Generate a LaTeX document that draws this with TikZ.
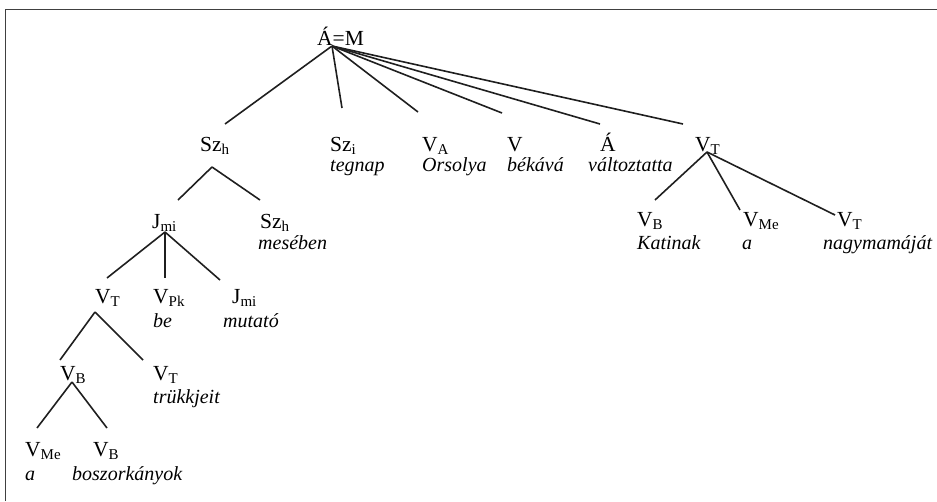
\documentclass[tikz,border=0pt]{standalone}
\usepackage{fontspec}
\setmainfont{Liberation Serif}
% lowered, smaller category index (kept out of the node's height and depth)
\newcommand\lsub[1]{\smash{\raisebox{-3pt}{\fontsize{15}{15}\selectfont #1}}}
\begin{document}
\begin{tikzpicture}[x=1pt,y=-1pt,
  lab/.style={anchor=base west, inner sep=0pt, font=\fontsize{21.5}{24}\selectfont},
  word/.style={anchor=base west, inner sep=0pt, font=\fontsize{20}{22}\selectfont\itshape},
  edge/.style={line width=1.6pt, draw=black!88},
  frame/.style={line width=1.8pt, draw=black!75}]
\useasboundingbox (0,0) rectangle (937,501);
\draw[frame] (5.5,501) -- (5.5,9.5) -- (937,9.5);

% ---- labels ----
\node[lab] (root) at (317,45) {Á=M};
% level 1
\node[lab] (szh)  at (200,151) {Sz\lsub{h}};
\node[lab] (szi)  at (330,151) {Sz\lsub{i}};
\node[word] (wtegnap) at (330,171) {tegnap};
\node[lab] (va)   at (422,151) {V\lsub{A}};
\node[word] (worsolya) at (422,171) {Orsolya};
\node[lab] (v)    at (507,151) {V};
\node[word] (wbekava) at (507,171) {békává};
\node[lab] (aa)   at (600,151) {Á};
\node[word] (wvaltoz) at (588,171) {változtatta};
\node[lab] (vt)   at (695,151) {V\lsub{T}};
% under Sz_h
\node[lab] (jmi)  at (152,228) {J\lsub{mi}};
\node[lab] (szh2) at (260,228) {Sz\lsub{h}};
\node[word] (wmeseben) at (258,249) {mesében};
% under J_mi
\node[lab] (vt2)  at (95,303) {V\lsub{T}};
\node[lab] (vpk)  at (153,303) {V\lsub{Pk}};
\node[word] (wbe) at (153,327) {be};
\node[lab] (jmi2) at (232,303) {J\lsub{mi}};
\node[word] (wmutato) at (223,327) {mutató};
% under V_T
\node[lab] (vb)   at (60,380) {V\lsub{B}};
\node[lab] (vt3)  at (153,380) {V\lsub{T}};
\node[word] (wtrukk) at (153,403) {trükkjeit};
% under V_B
\node[lab] (vme)  at (25,456) {V\lsub{Me}};
\node[word] (wa) at (25,480) {a};
\node[lab] (vb2)  at (93,456) {V\lsub{B}};
\node[word] (wboszork) at (72,480) {boszorkányok};
% under right V_T
\node[lab] (vb3)  at (637,226) {V\lsub{B}};
\node[word] (wkati) at (637,249) {Katinak};
\node[lab] (vme2) at (743,226) {V\lsub{Me}};
\node[word] (wa2) at (742,249) {a};
\node[lab] (vt4)  at (837,226) {V\lsub{T}};
\node[word] (wnagy) at (823,249) {nagymamáját};

% ---- branch points and line ends ----
\coordinate (root-b) at (332,46);
\coordinate (szh-t) at (225,124);
\coordinate (szi-t) at (342,108);
\coordinate (va-t)  at (418,112);
\coordinate (v-t)   at (502,113);
\coordinate (aa-t)  at (600,124);
\coordinate (vt-t)  at (683,124);

\coordinate (szh-b) at (212,167);
\coordinate (jmi-t) at (178,200);
\coordinate (szh2-t) at (260,200);

\coordinate (jmi-b) at (165,232);
\coordinate (vt2-t) at (107,278);
\coordinate (vpk-t) at (165,278);
\coordinate (jmi2-t) at (220,280);

\coordinate (vt2-b) at (95,312);
\coordinate (vb-t)  at (60,360);
\coordinate (vt3-t) at (143,360);

\coordinate (vb-b)  at (72,382);
\coordinate (vme-t) at (37,428);
\coordinate (vb2-t) at (107,428);

\coordinate (vt-b)  at (707,152);
\coordinate (vb3-t) at (655,200);
\coordinate (vme2-t) at (740,210);
\coordinate (vt4-t) at (835,215);

% ---- tree edges ----
\foreach \c in {szh,szi,va,v,aa,vt} \draw[edge] (root-b) -- (\c-t);
\foreach \c in {jmi,szh2} \draw[edge] (szh-b) -- (\c-t);
\foreach \c in {vt2,vpk,jmi2} \draw[edge] (jmi-b) -- (\c-t);
\foreach \c in {vb,vt3} \draw[edge] (vt2-b) -- (\c-t);
\foreach \c in {vme,vb2} \draw[edge] (vb-b) -- (\c-t);
\foreach \c in {vb3,vme2,vt4} \draw[edge] (vt-b) -- (\c-t);
\end{tikzpicture}
\end{document}
